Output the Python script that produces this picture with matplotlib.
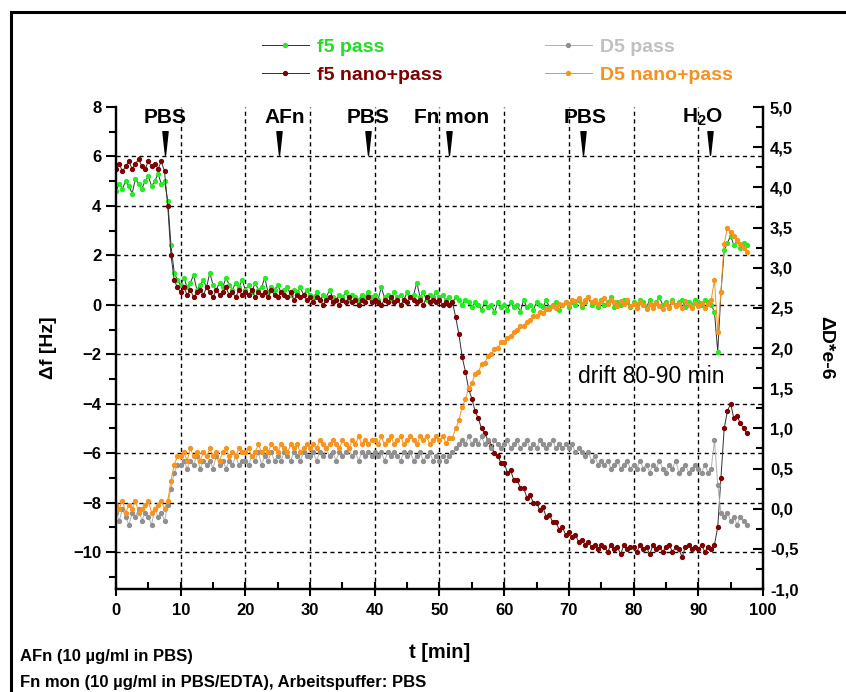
import matplotlib
matplotlib.use('Agg')
import matplotlib.pyplot as plt
import numpy as np
from matplotlib.patches import Rectangle
from matplotlib.path import Path
from matplotlib.ticker import MultipleLocator, FuncFormatter

plt.rcParams['font.family'] = ['Liberation Sans', 'DejaVu Sans']
plt.rcParams['font.weight'] = 'bold'
plt.rcParams['mathtext.fontset'] = 'custom'
plt.rcParams['mathtext.rm'] = 'Liberation Sans:bold'
plt.rcParams['mathtext.default'] = 'rm'

# sampling grid, min
t = np.arange(0, 98, 0.5)

# delta f (Hz), left axis
f5_pass = [
    4.6, 4.9, 4.7, 5.0, 4.8, 4.5, 5.1, 4.9, 4.7, 5.0, 5.2, 4.8, 5.0, 5.3, 4.9, 5.0, 4.2, 2.4, 1.3, 1.0,
    0.8, 1.1, 0.7, 0.9, 1.2, 0.6, 0.8, 1.0, 0.7, 1.3, 0.8, 0.6, 0.9, 0.7, 1.1, 0.8, 0.6, 0.9, 0.7, 1.0,
    0.6, 0.8, 0.5, 0.9, 0.6, 0.7, 1.1, 0.5, 0.7, 0.6, 0.8, 0.5, 0.6, 0.7, 0.4, 0.6, 0.5, 0.7, 0.4, 0.6,
    0.4, 0.3, 0.5, 0.2, 0.4, 0.3, 0.6, 0.3, 0.2, 0.4, 0.3, 0.5, 0.2, 0.4, 0.3, 0.2, 0.4, 0.3, 0.5, 0.3,
    0.4, 0.2, 0.7, 0.3, 0.4, 0.2, 0.5, 0.3, 0.4, 0.2, 0.5, 0.3, 0.4, 0.9, 0.3, 0.5, 0.2, 0.4, 0.3, 0.5,
    0.3, 0.4, 0.2, 0.3, 0.1, 0.3, 0.2, 0.0, 0.2, 0.1, -0.1, 0.1, 0.0, -0.2, 0.1, -0.1, 0.0, -0.3, 0.1, -0.1,
    0.0, -0.2, 0.1, -0.1, 0.0, -0.3, 0.2, -0.1, 0.0, -0.2, 0.1, 0.0, -0.1, 0.2, -0.1, 0.0, 0.1, -0.2, 0.0, 0.1,
    -0.1, 0.1, 0.0, 0.2, -0.1, 0.1, 0.3, 0.0, 0.1, -0.1, 0.2, 0.0, 0.1, 0.3, -0.1, 0.1, 0.0, 0.2, 0.1, -0.1,
    0.1, 0.0, 0.2, 0.1, -0.1, 0.2, 0.0, 0.1, 0.3, 0.0, 0.1, -0.1, 0.2, 0.0, 0.1, 0.2, -0.1, 0.1, 0.0, 0.2,
    0.1, 0.0, 0.2, 0.1, 0.0, -0.3, -1.9, 0.5, 2.2, 2.5, 2.8, 2.4, 2.6, 2.3, 2.5, 2.4,
]
f5_nano = [
    5.5, 5.7, 5.4, 5.6, 5.8, 5.5, 5.7, 5.9, 5.6, 5.5, 5.8, 5.6, 5.7, 5.5, 5.8, 5.4, 4.0, 2.0, 1.0, 0.7,
    0.5, 0.7, 0.4, 0.6, 0.3, 0.5, 0.6, 0.4, 0.7, 0.5, 0.3, 0.6, 0.4, 0.5, 0.7, 0.4, 0.5, 0.3, 0.6, 0.4,
    0.5, 0.4, 0.6, 0.3, 0.5, 0.4, 0.5, 0.3, 0.6, 0.4, 0.3, 0.5, 0.4, 0.3, 0.5, 0.2, 0.4, 0.3, 0.4, 0.2,
    0.3, 0.1, 0.3, 0.2, 0.0, 0.2, 0.3, 0.1, 0.2, 0.0, 0.2, 0.1, 0.3, 0.1, 0.2, 0.0, 0.2, 0.1, 0.3, 0.1,
    0.2, 0.1, 0.0, 0.2, 0.1, 0.3, 0.1, 0.2, 0.0, 0.2, 0.1, 0.3, 0.2, 0.1, 0.2, 0.0, 0.3, 0.1, 0.2, 0.1,
    0.2, 0.0, 0.1, 0.0, 0.1, -0.5, -1.2, -2.1, -2.7, -3.4, -3.8, -4.3, -4.6, -5.0, -5.2, -5.5, -5.7, -6.0, -6.1, -6.4,
    -6.4, -6.8, -6.7, -7.1, -7.1, -7.4, -7.4, -7.8, -7.7, -8.0, -8.0, -8.3, -8.2, -8.6, -8.5, -8.8, -8.8, -9.1, -9.0, -9.3,
    -9.2, -9.4, -9.3, -9.6, -9.5, -9.7, -9.6, -9.8, -9.7, -9.9, -9.7, -9.8, -10.0, -9.7, -9.9, -9.8, -10.1, -9.7, -9.9, -9.8,
    -9.8, -10.0, -9.7, -9.9, -9.8, -10.1, -9.7, -9.9, -9.8, -10.0, -9.8, -9.7, -10.0, -9.8, -9.9, -10.2, -9.8, -9.7, -9.9, -9.8,
    -9.9, -9.7, -10.0, -9.8, -9.9, -9.7, -9.0, -7.0, -5.0, -4.3, -4.0, -4.6, -4.5, -4.8, -5.0, -5.2,
]

# delta D (1e-6), right axis
d5_pass = [
    -0.05, -0.15, 0.0, -0.1, -0.2, -0.05, -0.1, 0.0, -0.15, -0.05, -0.1, -0.2, 0.0, -0.1, -0.05, -0.15, 0.05, 0.25, 0.45, 0.55,
    0.55, 0.6, 0.5, 0.6, 0.55, 0.65, 0.5, 0.6, 0.55, 0.6, 0.5, 0.65, 0.55, 0.6, 0.5, 0.6, 0.55, 0.65, 0.55, 0.6,
    0.6, 0.55, 0.65, 0.6, 0.7, 0.55, 0.65, 0.6, 0.7, 0.6, 0.65, 0.6, 0.7, 0.65, 0.6, 0.7, 0.65, 0.6, 0.7, 0.65,
    0.65, 0.7, 0.6, 0.7, 0.65, 0.75, 0.65, 0.7, 0.6, 0.7, 0.65, 0.7, 0.75, 0.65, 0.7, 0.6, 0.7, 0.65, 0.7, 0.65,
    0.7, 0.65, 0.7, 0.6, 0.7, 0.65, 0.7, 0.65, 0.6, 0.7, 0.65, 0.7, 0.6, 0.65, 0.7, 0.6, 0.65, 0.7, 0.6, 0.65,
    0.6, 0.65, 0.6, 0.65, 0.7, 0.75, 0.8, 0.85, 0.8, 0.9, 0.8, 0.85, 0.8, 0.9, 0.8, 0.85, 0.75, 0.85, 0.8, 0.75,
    0.8, 0.85, 0.75, 0.8, 0.85, 0.75, 0.8, 0.85, 0.75, 0.8, 0.75, 0.85, 0.8, 0.75, 0.8, 0.85, 0.75, 0.8, 0.75, 0.8,
    0.75, 0.8, 0.7, 0.75, 0.7, 0.65, 0.7, 0.6, 0.65, 0.55, 0.6, 0.55, 0.6, 0.5, 0.55, 0.6, 0.5, 0.55, 0.6, 0.5,
    0.55, 0.5, 0.6, 0.5, 0.55, 0.45, 0.55, 0.5, 0.6, 0.5, 0.45, 0.55, 0.5, 0.6, 0.45, 0.5, 0.55, 0.45, 0.5, 0.55,
    0.5, 0.45, 0.55, 0.45, 0.5, 0.85, 0.3, -0.05, -0.1, -0.05, -0.15, -0.1, -0.2, -0.1, -0.15, -0.2,
]
d5_nano = [
    0.05, 0.0, 0.1, -0.05, 0.05, 0.0, 0.1, -0.05, 0.0, 0.05, 0.1, -0.05, 0.0, 0.05, 0.1, 0.0, 0.1, 0.35, 0.55, 0.65,
    0.65, 0.7, 0.6, 0.75, 0.65, 0.7, 0.6, 0.7, 0.65, 0.75, 0.65, 0.7, 0.6, 0.7, 0.75, 0.65, 0.7, 0.65, 0.75, 0.7,
    0.7, 0.75, 0.65, 0.7, 0.8, 0.7, 0.75, 0.7, 0.8, 0.75, 0.7, 0.8, 0.75, 0.7, 0.8, 0.75, 0.8, 0.7, 0.75, 0.8,
    0.75, 0.8, 0.75, 0.85, 0.8, 0.75, 0.8, 0.85, 0.8, 0.75, 0.85, 0.8, 0.75, 0.85, 0.8, 0.9, 0.8, 0.85, 0.8, 0.85,
    0.85, 0.8, 0.9, 0.8, 0.85, 0.9, 0.8, 0.85, 0.9, 0.8, 0.85, 0.9, 0.85, 0.8, 0.9, 0.85, 0.9, 0.8, 0.85, 0.9,
    0.85, 0.9, 0.82, 0.88, 0.88, 1.0, 1.1, 1.27, 1.36, 1.5, 1.56, 1.68, 1.7, 1.8, 1.82, 1.9, 1.92, 1.99, 2.0, 2.07,
    2.08, 2.12, 2.15, 2.2, 2.22, 2.27, 2.28, 2.33, 2.35, 2.4, 2.4, 2.45, 2.44, 2.49, 2.48, 2.52, 2.5, 2.55, 2.53, 2.57,
    2.55, 2.6, 2.58, 2.62, 2.55, 2.6, 2.63, 2.57, 2.6, 2.55, 2.58, 2.62, 2.55, 2.6, 2.57, 2.52, 2.58, 2.55, 2.6, 2.52,
    2.55, 2.5, 2.57, 2.53, 2.48, 2.55, 2.5, 2.56, 2.52, 2.48, 2.55, 2.5, 2.57, 2.52, 2.55, 2.5, 2.58, 2.53, 2.5, 2.56,
    2.52, 2.56, 2.5, 2.55, 2.6, 2.85, 2.2, 2.7, 3.3, 3.5, 3.45, 3.4, 3.35, 3.3, 3.25, 3.2,
]

# injections
inj_labels = ['PBS', 'AFn', 'PBS', 'Fn mon', 'PBS', r'H$_2$O']
inj_label_x = [7.6, 26.1, 38.9, 51.9, 72.5, 90.6]
inj_arrow_x = [7.5, 25.2, 39.0, 51.5, 72.2, 91.8]

fig = plt.figure(figsize=(8.46, 6.92), dpi=100)
ax = fig.add_axes([0.1371, 0.1488, 0.7648, 0.6965])
ax2 = ax.twinx()

style = dict(lw=0.7, marker='o', ms=2.8)
l1, = ax.plot(t, f5_pass, color='#303030', mfc='#22ee22', mec='#22ee22',
              label='f5 pass', **style)
l2, = ax.plot(t, f5_nano, color='#303030', mfc='#800000', mec='#800000',
              label='f5 nano+pass', **style)
l3, = ax2.plot(t, d5_pass, color='#b0b0b0', mfc='#909090', mec='#909090',
               label='D5 pass', **style)
l4, = ax2.plot(t, d5_nano, color='#f7941d', mfc='#f7941d', mec='#f7941d',
               label='D5 nano+pass', **style)

ax.set_xlim(0, 100)
ax.set_ylim(-11.5, 8)
ax2.set_ylim(-1.0, 5.0)

ax.xaxis.set_major_locator(MultipleLocator(10))
ax.xaxis.set_minor_locator(MultipleLocator(5))
ax.yaxis.set_major_locator(MultipleLocator(2))
ax.yaxis.set_minor_locator(MultipleLocator(1))
ax2.yaxis.set_major_locator(MultipleLocator(0.5))
ax2.yaxis.set_minor_locator(MultipleLocator(0.25))
ax2.yaxis.set_major_formatter(FuncFormatter(lambda v, _: f'{v:.1f}'.replace('.', ',')))

# dashed grid, skip the edges
for gx in range(10, 100, 10):
    ax.axvline(gx, color='black', lw=1.0, ls=(0, (3, 2.5)), zorder=0)
for gy in range(-10, 8, 2):
    ax.axhline(gy, color='black', lw=1.0, ls=(0, (3, 2.5)), zorder=0)

for a in (ax, ax2):
    a.spines['top'].set_visible(False)
    for s in a.spines.values():
        s.set_linewidth(1.6)
ax.tick_params(axis='x', which='major', direction='inout', length=10, width=1.5, labelsize=12, pad=5)
ax.tick_params(axis='x', which='minor', direction='in', length=5, width=1.5)
ax.tick_params(axis='y', which='major', direction='out', length=7, width=1.5, labelsize=12)
ax.tick_params(axis='y', which='minor', direction='out', length=5, width=1.5)
ax2.tick_params(axis='y', which='major', direction='in', length=7, width=1.5, labelsize=12, pad=5)
ax2.tick_params(axis='y', which='minor', direction='in', length=5, width=1.5)

ax.set_xlabel('t [min]', fontsize=14.5, fontweight='bold', labelpad=18)
ax.set_ylabel('Δf [Hz]', fontsize=14, fontweight='bold', labelpad=12)
ax2.set_ylabel('ΔD*e-6', fontsize=14, fontweight='bold', rotation=-90, labelpad=26)

# injection markers
arrow = Path([(-0.22, 1), (0.22, 1), (0, -1), (-0.22, 1)],
             [Path.MOVETO, Path.LINETO, Path.LINETO, Path.CLOSEPOLY])
ax.plot(inj_arrow_x, [6.55] * len(inj_arrow_x), ls='none', marker=arrow,
        ms=17, color='black', clip_on=False)
for lab, x in zip(inj_labels, inj_label_x):
    ax.text(x, 7.58, lab, ha='center', va='center', fontsize=15, fontweight='bold')

ax.text(71.4, -2.9, 'drift 80-90 min', fontsize=16.5, fontweight='normal', va='center', ha='left')

leg = fig.legend(handles=[l1, l2, l3, l4], ncol=2, loc='upper left',
                 bbox_to_anchor=(0.289, 0.970), frameon=False, fontsize=14,
                 handlelength=2.4, handletextpad=0.45, columnspacing=5.25,
                 labelspacing=0.55, numpoints=1, markerscale=1.0)
for txt, c in zip(leg.get_texts(), ['#22dd22', '#7f0000', '#c0c0c0', '#f7901e']):
    txt.set_color(c)

fig.text(20 / 846, 1 - 656 / 692, 'AFn (10 µg/ml in PBS)', fontsize=12, va='center')
fig.text(20 / 846, 1 - 683 / 692, 'Fn mon (10 µg/ml in PBS/EDTA), Arbeitspuffer: PBS',
         fontsize=12, va='center')

fig.patches.append(Rectangle((11 / 846, -0.1), 1.2, 0.1 + (692 - 12) / 692,
                             transform=fig.transFigure, fill=False, lw=2.2,
                             edgecolor='black'))

fig.savefig('out.png', dpi=100)
